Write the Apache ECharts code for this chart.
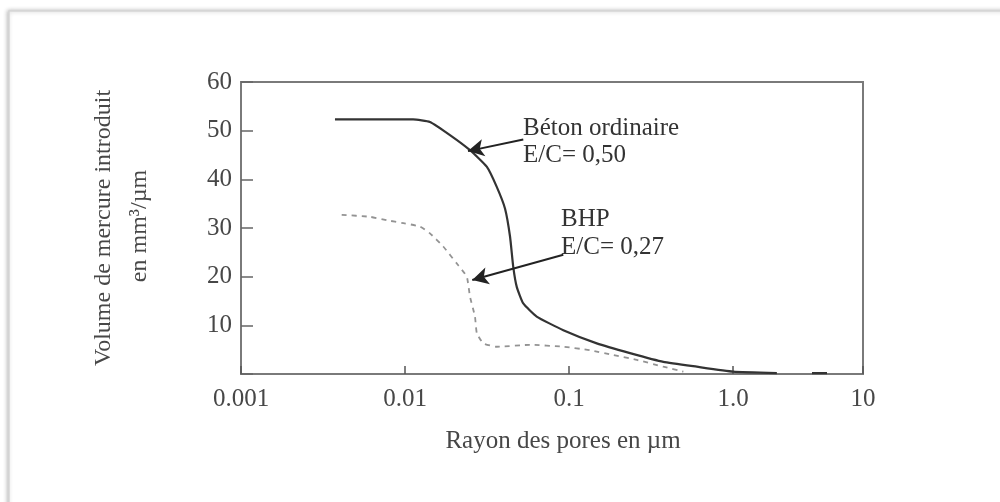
<!DOCTYPE html>
<html>
<head>
<meta charset="utf-8">
<script src="https://cdn.jsdelivr.net/npm/echarts@6/dist/echarts.min.js"></script>
<style>
  html, body { margin: 0; padding: 0; background: #fff; }
  #chart { width: 1000px; height: 502px; }
</style>
</head>
<body>
<div id="chart"></div>
<script>
// Pore radius (µm) and intruded mercury volume (mm³/µm) for each concrete
const betonRadius = [0.00374, 0.0112, 0.0142, 0.0188, 0.0249, 0.0315, 0.0362, 0.0407, 0.0437, 0.0457, 0.0480, 0.0526, 0.0635, 0.0923, 0.1476, 0.2355, 0.376, 0.601, 1.0, 1.85, null, 3.03, 3.74];
const betonVolume = [52.3, 52.3, 51.8, 49.1, 46.0, 42.6, 38.5, 34.0, 28.2, 22.0, 17.9, 14.5, 11.8, 9.0, 6.3, 4.3, 2.5, 1.5, 0.5, 0.2, null, 0.2, 0.2];

const bhpRadius = [0.00411, 0.00612, 0.00773, 0.00977, 0.01234, 0.0142, 0.0171, 0.0207, 0.0238, 0.0249, 0.0267, 0.0274, 0.0300, 0.0362, 0.0578, 0.0923, 0.134, 0.186, 0.259, 0.376, 0.498];
const bhpVolume = [32.7, 32.3, 31.6, 31.0, 30.3, 28.9, 26.2, 22.7, 20.0, 15.9, 11.8, 8.4, 6.3, 5.6, 6.0, 5.6, 4.9, 3.9, 2.9, 1.5, 0.5];

// Decade labels of the radius axis (the last one sits on the right edge)
const xTickLabels = ['0.001', '0.01', '0.1', '1.0', '10'];
const yTicks = [10, 20, 30, 40, 50, 60];

// Callout arrows: [tail, head] in (radius, volume)
const betonArrow = [[0.0526, 48.2], [0.0242, 45.8]];
const bhpArrow = [[0.0923, 24.5], [0.0257, 19.3]];

const SERIF = '"Liberation Serif", "DejaVu Serif", serif';
const INK = '#333';
const LABEL = '#474747';
const AXIS = '#7a7a7a';

function pairs(xs, ys) {
  return xs.map((x, i) => (x === null ? [null, null] : [x, ys[i]]));
}

const chart = echarts.init(document.getElementById('chart'), null, { renderer: 'canvas' });

chart.setOption({
  backgroundColor: '#fff',
  animation: false,
  grid: {
    left: 241, right: 137, top: 82, bottom: 128,
    show: true, borderColor: AXIS, borderWidth: 2, backgroundColor: 'transparent'
  },
  xAxis: {
    type: 'log',
    logBase: 10,
    min: 0.001,
    max: 6.2,
    axisLine: { show: true, lineStyle: { color: AXIS, width: 2 } },
    axisTick: { show: true, inside: true, length: 8, lineStyle: { color: '#555', width: 1.5 } },
    minorTick: { show: false },
    splitLine: { show: false },
    axisLabel: {
      margin: 13,
      fontFamily: SERIF, fontSize: 25, color: LABEL,
      showMaxLabel: true,
      formatter: function (v) {
        const k = Math.round(Math.log10(v)) + 3;
        return v > 3 ? xTickLabels[4] : (xTickLabels[k] || '');
      }
    }
  },
  yAxis: {
    type: 'value',
    min: 0, max: 60, interval: 10,
    axisLine: { show: true, lineStyle: { color: AXIS, width: 2 } },
    axisTick: { show: true, inside: true, length: 12, lineStyle: { color: '#666', width: 1.5 } },
    splitLine: { show: false },
    axisLabel: {
      margin: 9,
      fontFamily: SERIF, fontSize: 25, color: LABEL,
      formatter: function (v) { return yTicks.indexOf(v) >= 0 ? String(v) : ''; }
    }
  },
  series: [
    {
      name: 'Béton ordinaire',
      type: 'line',
      data: pairs(betonRadius, betonVolume),
      showSymbol: false,
      smooth: 0.15,
      connectNulls: false,
      lineStyle: { color: '#333', width: 2.2 },
      z: 3,
      markLine: {
        silent: true,
        symbol: ['none', 'arrow'],
        symbolSize: [13, 16],
        label: { show: false },
        lineStyle: { color: '#222', width: 2, type: 'solid' },
        data: [[{ coord: betonArrow[0] }, { coord: betonArrow[1] }]]
      }
    },
    {
      name: 'BHP',
      type: 'line',
      data: pairs(bhpRadius, bhpVolume),
      showSymbol: false,
      smooth: 0.15,
      lineStyle: { color: '#939393', width: 1.8, type: [5, 5] },
      z: 2,
      markLine: {
        silent: true,
        symbol: ['none', 'arrow'],
        symbolSize: [13, 16],
        label: { show: false },
        lineStyle: { color: '#222', width: 2, type: 'solid' },
        data: [[{ coord: bhpArrow[0] }, { coord: bhpArrow[1] }]]
      }
    }
  ],
  graphic: [
    // page frame
    {
      type: 'rect', z: -10, silent: true,
      shape: { x: 9, y: 11, width: 1010, height: 520 },
      style: { fill: '#fff', stroke: '#d6d6d6', lineWidth: 1.5,
               shadowBlur: 4, shadowColor: 'rgba(0,0,0,0.25)', shadowOffsetX: -1 }
    },
    // axis titles
    {
      type: 'text', x: 104, y: 228, rotation: Math.PI / 2, silent: true,
      style: { text: 'Volume de mercure introduit', font: '24px ' + SERIF, fill: LABEL,
               textAlign: 'center', textVerticalAlign: 'middle' }
    },
    {
      type: 'text', x: 140, y: 226, rotation: Math.PI / 2, silent: true,
      style: { text: 'en mm³/µm', font: '24px ' + SERIF, fill: LABEL,
               textAlign: 'center', textVerticalAlign: 'middle' }
    },
    {
      type: 'text', x: 563, y: 441, silent: true,
      style: { text: 'Rayon des pores en µm', font: '25px ' + SERIF, fill: LABEL,
               textAlign: 'center', textVerticalAlign: 'middle' }
    },
    // curve callouts
    {
      type: 'text', x: 523, y: 128, silent: true,
      style: { text: 'Béton ordinaire', font: '25px ' + SERIF, fill: INK,
               textAlign: 'left', textVerticalAlign: 'middle' }
    },
    {
      type: 'text', x: 523, y: 155, silent: true,
      style: { text: 'E/C= 0,50', font: '25px ' + SERIF, fill: INK,
               textAlign: 'left', textVerticalAlign: 'middle' }
    },
    {
      type: 'text', x: 561, y: 219, silent: true,
      style: { text: 'BHP', font: '25px ' + SERIF, fill: INK,
               textAlign: 'left', textVerticalAlign: 'middle' }
    },
    {
      type: 'text', x: 561, y: 247, silent: true,
      style: { text: 'E/C= 0,27', font: '25px ' + SERIF, fill: INK,
               textAlign: 'left', textVerticalAlign: 'middle' }
    }
  ]
});
</script>
</body>
</html>
